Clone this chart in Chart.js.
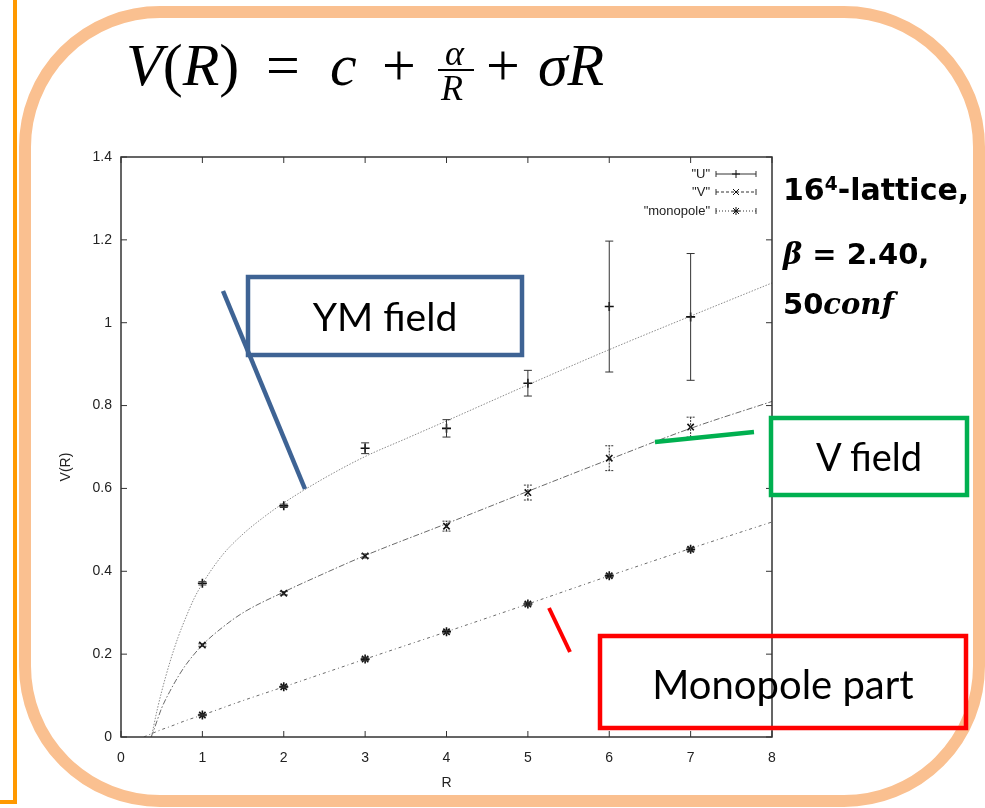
<!DOCTYPE html>
<html><head><meta charset="utf-8">
<script src="https://cdn.jsdelivr.net/npm/chart.js@4"></script>
<style>
html,body{margin:0;padding:0;background:#fff;}
#wrap{position:relative;width:985px;height:808px;overflow:hidden;background:#fff;}
#deco,#ov{position:absolute;left:0;top:0;}
#c{position:absolute;left:0;top:0;}
.lbl{position:absolute;font-family:Lato,"Open Sans",sans-serif;color:#000;white-space:nowrap;}
.fm{position:absolute;font-family:"Liberation Serif",serif;font-size:60px;line-height:60px;top:35px;white-space:nowrap;color:#000;}
.fs{position:absolute;font-family:"Liberation Serif",serif;font-size:36px;line-height:36px;white-space:nowrap;color:#000;font-style:italic;}
.rt{position:absolute;left:783px;font-family:"DejaVu Sans",sans-serif;font-weight:bold;color:#000;white-space:nowrap;}
.rt .m{font-family:"DejaVu Serif",serif;font-style:italic;}
</style></head>
<body>
<div id="wrap">
<svg id="deco" width="985" height="808">
  <rect x="25" y="12" width="954" height="789" rx="135" ry="135" fill="none" stroke="#FAC090" stroke-width="12"/>
  <path d="M0 802 L15 802 L15 0" fill="none" stroke="#FF9900" stroke-width="4"/>
</svg>
<canvas id="c" width="985" height="808"></canvas>
<svg id="ov" width="985" height="808">
  <rect x="248" y="277" width="274" height="78" fill="none" stroke="#3E6394" stroke-width="4.5"/>
  <line x1="223" y1="291" x2="305" y2="489" stroke="#3E6394" stroke-width="4.5"/>
  <rect x="771" y="418" width="196" height="77" fill="none" stroke="#00B050" stroke-width="4.5"/>
  <line x1="655" y1="442" x2="754" y2="432" stroke="#00B050" stroke-width="4.5"/>
  <rect x="600" y="636" width="366" height="92" fill="none" stroke="#FF0000" stroke-width="4.5"/>
  <line x1="549" y1="608" x2="570" y2="652" stroke="#FF0000" stroke-width="4"/>
  <line x1="438" y1="70" x2="474" y2="70" stroke="#000" stroke-width="2"/>
</svg>
<div class="lbl" style="left:248px;top:277px;width:274px;height:78px;line-height:78px;text-align:center;font-size:39px;">YM field</div>
<div class="lbl" style="left:771px;top:418px;width:196px;height:77px;line-height:77px;text-align:center;font-size:38px;">V field</div>
<div class="lbl" style="left:600px;top:636px;width:366px;height:96px;line-height:96px;text-align:center;font-size:40px;">Monopole part</div>
<div class="fm" style="left:126px;"><i>V</i>(<i>R</i>)</div>
<div class="fm" style="left:266px;">=</div>
<div class="fm" style="left:330px;"><i>c</i></div>
<div class="fm" style="left:382px;">+</div>
<div class="fs" style="left:445px;top:35px;">α</div>
<div class="fs" style="left:441px;top:70px;">R</div>
<div class="fm" style="left:486px;">+</div>
<div class="fm" style="left:538px;"><i>σR</i></div>
<div class="rt" style="top:172px;font-size:30px;">16<sup style="font-size:0.62em;vertical-align:0.55em;line-height:0">4</sup>-lattice,</div>
<div class="rt" style="top:237px;font-size:29px;"><span class="m">β</span> = 2.40,</div>
<div class="rt" style="top:287px;font-size:29px;">50<span class="m">conf</span></div>
</div>
<script>
// ---- data ----
const R = [1, 2, 3, 4, 5, 6, 7];
const uVal = [0.371, 0.558, 0.697, 0.745, 0.854, 1.039, 1.014];
const uErr = [0.004, 0.004, 0.013, 0.021, 0.031, 0.158, 0.153];
const vVal = [0.222, 0.347, 0.437, 0.509, 0.590, 0.673, 0.748];
const vErr = [0.003, 0.004, 0.005, 0.012, 0.018, 0.030, 0.024];
const mVal = [0.053, 0.121, 0.188, 0.254, 0.321, 0.389, 0.453];
const mErr = [0.002, 0.002, 0.003, 0.003, 0.003, 0.004, 0.004];
// fitted curves
const uFitR = [0.375, 0.4, 0.45, 0.5, 0.6, 0.7, 0.8, 0.9, 1, 1.25, 1.5, 1.75, 2, 2.5, 3, 3.5, 4, 5, 6, 7, 8];
const uFitV = [0, 0.025, 0.07, 0.11, 0.18, 0.24, 0.29, 0.335, 0.37, 0.44, 0.49, 0.53, 0.565, 0.625, 0.677, 0.72, 0.763, 0.85, 0.935, 1.016, 1.096];
const vFitR = [0.37, 0.4, 0.5, 0.6, 0.7, 0.8, 1, 1.25, 1.5, 2, 2.5, 3, 4, 5, 6, 7, 8];
const vFitV = [0, 0.015, 0.07, 0.11, 0.145, 0.175, 0.222, 0.265, 0.3, 0.35, 0.395, 0.438, 0.515, 0.593, 0.67, 0.745, 0.81];
const mFitR = [0.28, 0.4, 0.5, 0.6, 0.8, 1, 1.5, 2, 3, 4, 5, 6, 7, 8];
const mFitV = [0, 0.01, 0.018, 0.025, 0.04, 0.053, 0.088, 0.121, 0.188, 0.254, 0.321, 0.389, 0.455, 0.519];
const seriesNames = ['"U"', '"V"', '"monopole"'];
const xTickLabels = ['0', '1', '2', '3', '4', '5', '6', '7', '8'];
const yTickLabels = ['0', '0.2', '0.4', '0.6', '0.8', '1', '1.2', '1.4'];
const xTitle = 'R';
const yTitle = 'V(R)';

const pts = (xs, ys) => xs.map((x, i) => ({x: x, y: ys[i]}));
const TICKFONT = {family: '"Liberation Sans", Arial, sans-serif', size: 14};
const INK = '#222';

function drawMarker(ctx, style, x, y, r) {
  ctx.beginPath();
  if (style === 'cross' || style === 'star') {
    ctx.moveTo(x - r, y); ctx.lineTo(x + r, y);
    ctx.moveTo(x, y - r); ctx.lineTo(x, y + r);
  }
  if (style === 'crossRot' || style === 'star') {
    const d = r * 0.75;
    ctx.moveTo(x - d, y - d); ctx.lineTo(x + d, y + d);
    ctx.moveTo(x - d, y + d); ctx.lineTo(x + d, y - d);
  }
  ctx.stroke();
}

const gnuPlugin = {
  id: 'gnu',
  afterDatasetsDraw(chart) {
    const {ctx, scales: {x, y}} = chart;
    ctx.save();
    chart.data.datasets.forEach(ds => {
      if (!ds.err) return;
      ctx.strokeStyle = ds.errColor || '#333';
      ctx.lineWidth = 1;
      ctx.setLineDash(ds.errDash || []);
      ds.data.forEach((p, i) => {
        const px = x.getPixelForValue(p.x);
        const y1 = y.getPixelForValue(p.y - ds.err[i]);
        const y2 = y.getPixelForValue(p.y + ds.err[i]);
        ctx.beginPath();
        ctx.moveTo(px, y1); ctx.lineTo(px, y2);
        ctx.moveTo(px - 4, y1); ctx.lineTo(px + 4, y1);
        ctx.moveTo(px - 4, y2); ctx.lineTo(px + 4, y2);
        ctx.stroke();
      });
    });
    ctx.restore();
  },
  afterDraw(chart) {
    const {ctx, chartArea: a, scales: {x, y}} = chart;
    ctx.save();
    ctx.strokeStyle = '#333';
    ctx.lineWidth = 1.5;
    ctx.strokeRect(a.left, a.top, a.right - a.left, a.bottom - a.top);
    ctx.lineWidth = 1;
    ctx.beginPath();
    x.ticks.forEach(t => {
      const px = x.getPixelForValue(t.value);
      ctx.moveTo(px, a.bottom); ctx.lineTo(px, a.bottom - 6);
      ctx.moveTo(px, a.top); ctx.lineTo(px, a.top + 6);
    });
    y.ticks.forEach(t => {
      const py = y.getPixelForValue(t.value);
      ctx.moveTo(a.left, py); ctx.lineTo(a.left + 6, py);
      ctx.moveTo(a.right, py); ctx.lineTo(a.right - 6, py);
    });
    ctx.stroke();
    ctx.fillStyle = INK;
    ctx.font = '14px "Liberation Sans", Arial, sans-serif';
    ctx.textAlign = 'center';
    ctx.textBaseline = 'middle';
    ctx.fillText(xTitle, (a.left + a.right) / 2, 783);
    ctx.save();
    ctx.translate(66, 467);
    ctx.rotate(-Math.PI / 2);
    ctx.fillText(yTitle, 0, 0);
    ctx.restore();
    const styles = ['cross', 'crossRot', 'star'];
    const dashes = [[], [3, 2], [1, 2]];
    const rows = [174, 192, 211];
    ctx.font = '13px "Liberation Sans", Arial, sans-serif';
    ctx.textAlign = 'right';
    seriesNames.forEach((n, i) => {
      const yy = rows[i];
      ctx.fillStyle = INK;
      ctx.fillText(n, 710, yy);
      ctx.strokeStyle = '#333';
      ctx.setLineDash(dashes[i]);
      ctx.beginPath();
      ctx.moveTo(716, yy); ctx.lineTo(756, yy);
      ctx.stroke();
      ctx.setLineDash([]);
      ctx.beginPath();
      ctx.moveTo(716, yy - 3); ctx.lineTo(716, yy + 3);
      ctx.moveTo(756, yy - 3); ctx.lineTo(756, yy + 3);
      ctx.stroke();
      ctx.strokeStyle = '#111';
      drawMarker(ctx, styles[i], 736, yy, 4);
    });
    ctx.restore();
  }
};

const fitStyle = (dash, color) => ({
  type: 'line', pointRadius: 0, borderWidth: 1, borderColor: color, borderDash: dash,
  fill: false, cubicInterpolationMode: 'monotone', order: 2
});
const ptStyle = (style, err, dash) => ({
  type: 'scatter', pointStyle: style, pointRadius: 4.5, borderColor: '#111', backgroundColor: '#111',
  pointBorderWidth: 1.6, showLine: false, err: err, errDash: dash, order: 1
});

new Chart(document.getElementById('c'), {
  data: {
    datasets: [
      Object.assign({label: 'U fit', data: pts(uFitR, uFitV)}, fitStyle([1.5, 1.5], '#8a8a8a')),
      Object.assign({label: 'V fit', data: pts(vFitR, vFitV)}, fitStyle([6, 2, 1.5, 2], '#6a6a6a')),
      Object.assign({label: 'monopole fit', data: pts(mFitR, mFitV)}, fitStyle([3, 3, 1, 3], '#6a6a6a')),
      Object.assign({label: seriesNames[0], data: pts(R, uVal)}, ptStyle('cross', uErr, [])),
      Object.assign({label: seriesNames[1], data: pts(R, vVal)}, ptStyle('crossRot', vErr, [2, 1])),
      Object.assign({label: seriesNames[2], data: pts(R, mVal)}, ptStyle('star', mErr, []))
    ]
  },
  options: {
    responsive: false,
    animation: false,
    events: [],
    layout: {padding: {left: 0, right: 213, top: 157, bottom: 0}},
    plugins: {legend: {display: false}, tooltip: {enabled: false}},
    scales: {
      x: {
        type: 'linear', min: 0, max: 8,
        grid: {display: false, drawTicks: false},
        border: {display: false},
        afterFit: s => { s.height = 71; },
        afterBuildTicks: s => { s.ticks = xTickLabels.map(v => ({value: Number(v)})); },
        ticks: {padding: 13, font: TICKFONT, color: INK, autoSkip: false, maxRotation: 0,
                callback: (v, i) => xTickLabels[i]}
      },
      y: {
        type: 'linear', min: 0, max: 1.4,
        grid: {display: false, drawTicks: false},
        border: {display: false},
        afterFit: s => { s.width = 121; },
        afterBuildTicks: s => { s.ticks = yTickLabels.map(v => ({value: Number(v)})); },
        ticks: {padding: 9, font: TICKFONT, color: INK, autoSkip: false,
                callback: (v, i) => yTickLabels[i]}
      }
    }
  },
  plugins: [gnuPlugin]
});
</script>
</body></html>
